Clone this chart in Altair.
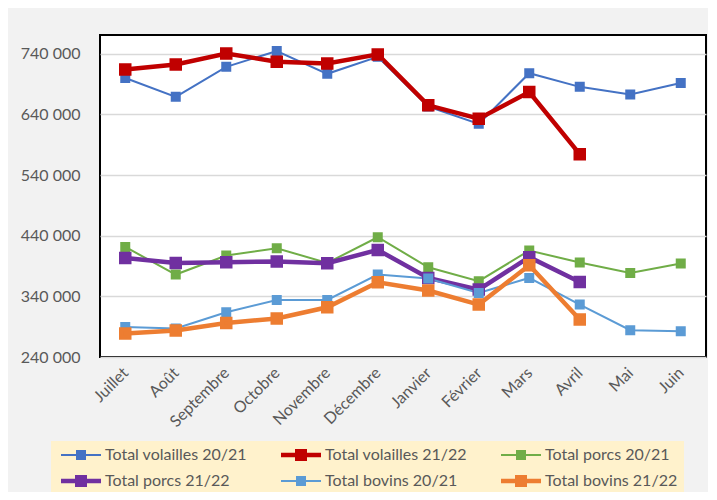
import altair as alt
import pandas as pd

months = ["Juillet", "Août", "Septembre", "Octobre", "Novembre", "Décembre",
          "Janvier", "Février", "Mars", "Avril", "Mai", "Juin"]

series_names = ["Total volailles 20/21", "Total volailles 21/22",
                "Total porcs 20/21", "Total porcs 21/22",
                "Total bovins 20/21", "Total bovins 21/22"]

volailles_2021 = [700000, 669000, 718500, 744500, 707000, 735000, 653000, 624500, 708000, 685500, 673000, 692000]
volailles_2122 = [714000, 722500, 740500, 727000, 724000, 739000, 655000, 633000, 677000, 574500]
porcs_2021 = [421500, 376000, 407400, 419400, 395100, 437500, 388000, 365000, 415600, 395800, 378600, 394200]
porcs_2122 = [403400, 395100, 396300, 397400, 394600, 416600, 370400, 351200, 404600, 363800]
bovins_2021 = [289600, 286900, 313800, 334100, 334100, 376000, 369400, 345600, 370400, 326500, 284100, 282500]
bovins_2122 = [278700, 283600, 296200, 303400, 322000, 363300, 349600, 326500, 391400, 301800]

y_ticks = [240000, 340000, 440000, 540000, 640000, 740000]

colors = ["#4472C4", "#C00000", "#70AD47", "#7030A0", "#5B9BD5", "#ED7D31"]
widths = [2, 4.5, 2, 4.5, 2, 4.5]

# legend symbols: line segment + square (thin for 20/21, thick for 21/22)
THIN = "M-1,-0.25H9V0.25H-1ZM2.75,-1.25H5.25V1.25H2.75Z"
THICK = "M-1,-0.5625H9V0.5625H-1ZM2.5,-1.5H5.5V1.5H2.5Z"
legend_shapes = [THIN, THICK, THIN, THICK, THIN, THICK]

all_values = [volailles_2021, volailles_2122, porcs_2021, porcs_2122, bovins_2021, bovins_2122]
rows = []
for i, (name, vals) in enumerate(zip(series_names, all_values)):
    for m, v in zip(months, vals):
        rows.append({"mois": m, "serie": name, "valeur": v, "ordre": i})
df = pd.DataFrame(rows)

FONT = "Lato"
TXT = "#595959"

color_scale = alt.Scale(domain=series_names, range=colors)
width_scale = alt.Scale(type="ordinal", domain=series_names, range=widths)
shape_scale = alt.Scale(domain=series_names, range=legend_shapes)

x_enc = alt.X("mois:N", sort=months,
              scale=alt.Scale(type="point", padding=0.5),
              axis=alt.Axis(title=None, labelAngle=-45, labelAlign="right",
                            labelBaseline="middle", labelPadding=13,
                            ticks=False, domain=False, grid=False))
y_enc = alt.Y("valeur:Q",
              scale=alt.Scale(domain=[240000, 771000], nice=False, zero=False),
              axis=alt.Axis(title=None, values=y_ticks,
                            labelExpr="format(datum.value/1000, 'd') + ' 000'",
                            ticks=False, domain=False, labelPadding=20,
                            gridColor="#D9D9D9", gridWidth=1.5))

legend = alt.Legend(title=None, orient="none", legendX=-49, legendY=406,
                    direction="horizontal", columns=3, columnPadding=29,
                    rowPadding=10, fillColor="#FFF2CC", padding=6,
                    symbolSize=64, symbolStrokeWidth=0,
                    labelOffset=32, labelFont=FONT, labelFontSize=16,
                    labelColor=TXT, labelLimit=300)

lines = alt.Chart(df).mark_line().encode(
    x=x_enc, y=y_enc,
    color=alt.Color("serie:N", scale=color_scale, legend=None),
    strokeWidth=alt.StrokeWidth("serie:N", scale=width_scale, legend=None),
    order="ordre:Q",
)

points = alt.Chart(df).mark_point(filled=True, shape="square", size=64, opacity=1).encode(
    x=x_enc, y=y_enc,
    color=alt.Color("serie:N", scale=color_scale, legend=None),
    stroke=alt.Stroke("serie:N", scale=color_scale, legend=None),
    strokeWidth=alt.StrokeWidth("serie:N", scale=width_scale, legend=None),
)

legend_layer = alt.Chart(df).mark_point(filled=True, opacity=1).encode(
    x=x_enc, y=y_enc,
    color=alt.Color("serie:N", scale=color_scale, legend=legend),
    shape=alt.Shape("serie:N", scale=shape_scale, legend=legend),
).transform_filter("datum.valeur < 0")

chart = alt.layer(lines, points, legend_layer).resolve_legend(
    color="independent", shape="independent"
).properties(
    width=606, height=322,
    autosize=alt.AutoSizeParams(type="none"),
    padding={"left": 92, "top": 27, "right": 2, "bottom": 135},
    background="#F2F2F2",
).configure_view(
    stroke="black", strokeWidth=2, fill="white"
).configure_axis(
    labelFont=FONT, labelFontSize=16, labelColor=TXT
)

chart.save("out.html", embed_options={"renderer": "svg", "actions": False})
